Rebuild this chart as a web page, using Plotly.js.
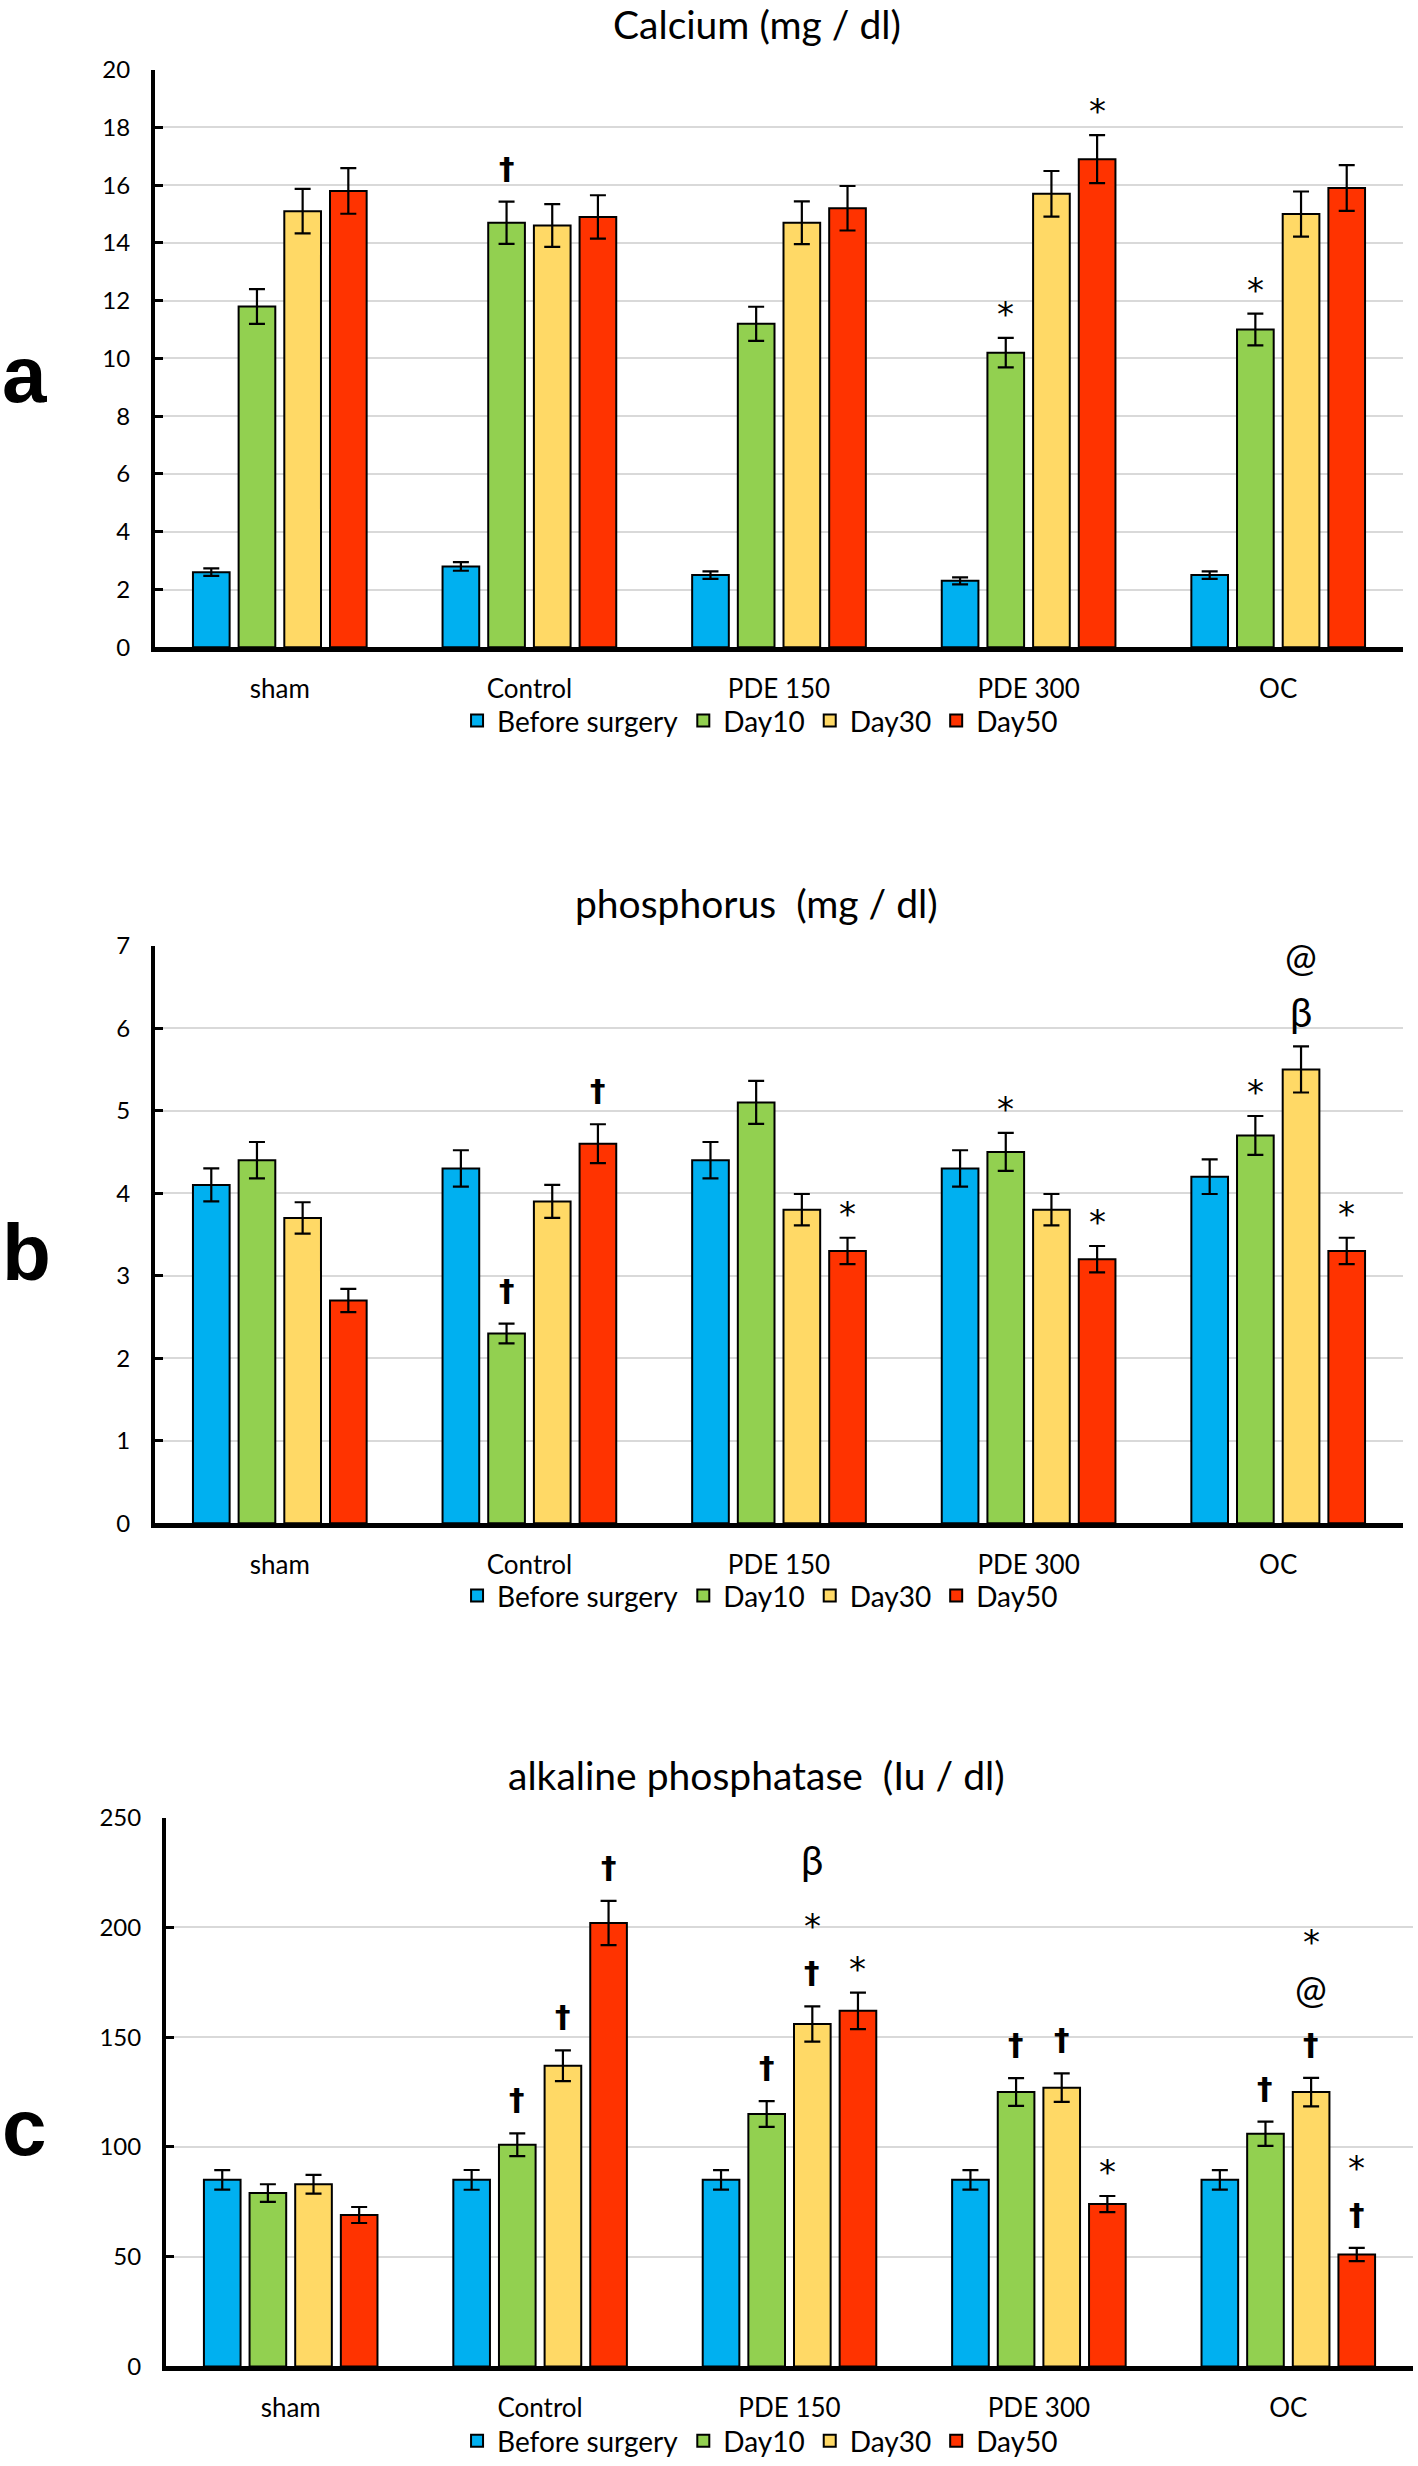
<!DOCTYPE html>
<html>
<head>
<meta charset="utf-8">
<script src="https://cdn.plot.ly/plotly-3.0.1.min.js"></script>
<style>
  html, body { margin: 0; padding: 0; background: #ffffff; }
  #chart { width: 1418px; height: 2466px; }
</style>
</head>
<body>
<div id="chart"></div>
<script>
// ---------------- DATA ----------------
const groups = ['sham', 'Control', 'PDE 150', 'PDE 300', 'OC'];
const seriesNames = ['Before surgery', 'Day10', 'Day30', 'Day50'];
const seriesColors = ['#00B0F0', '#92D050', '#FFD966', '#FF3300'];

// (a) Calcium (mg / dl)
const caBefore = [2.6, 2.8, 2.5, 2.3, 2.5];
const caDay10 = [11.8, 14.7, 11.2, 10.2, 11.0];
const caDay30 = [15.1, 14.6, 14.7, 15.7, 15.0];
const caDay50 = [15.8, 14.9, 15.2, 16.9, 15.9];
const caBeforeErr = [0.13, 0.15, 0.13, 0.12, 0.13];
const caDay10Err = [0.6, 0.73, 0.59, 0.51, 0.55];
const caDay30Err = [0.77, 0.74, 0.74, 0.79, 0.78];
const caDay50Err = [0.79, 0.75, 0.77, 0.83, 0.79];
// significance marks, listed from the bar upwards
const caBeforeMarks = ['', '', '', '', ''];
const caDay10Marks = ['', '†', '', '*', '*'];
const caDay30Marks = ['', '', '', '', ''];
const caDay50Marks = ['', '', '', '*', ''];

// (b) phosphorus (mg / dl)
const pBefore = [4.1, 4.3, 4.4, 4.3, 4.2];
const pDay10 = [4.4, 2.3, 5.1, 4.5, 4.7];
const pDay30 = [3.7, 3.9, 3.8, 3.8, 5.5];
const pDay50 = [2.7, 4.6, 3.3, 3.2, 3.3];
const pBeforeErr = [0.2, 0.22, 0.22, 0.22, 0.21];
const pDay10Err = [0.22, 0.12, 0.26, 0.23, 0.235];
const pDay30Err = [0.19, 0.2, 0.19, 0.19, 0.28];
const pDay50Err = [0.14, 0.235, 0.16, 0.16, 0.16];
const pBeforeMarks = ['', '', '', '', ''];
const pDay10Marks = ['', '†', '', '*', '*'];
const pDay30Marks = ['', '', '', '', 'β@'];
const pDay50Marks = ['', '†', '*', '*', '*'];

// (c) alkaline phosphatase (Iu / dl)
const alpBefore = [85, 85, 85, 85, 85];
const alpDay10 = [79, 101, 115, 125, 106];
const alpDay30 = [83, 137, 156, 127, 125];
const alpDay50 = [69, 202, 162, 74, 51];
const alpBeforeErr = [4.4, 4.5, 4.4, 4.4, 4.4];
const alpDay10Err = [4.0, 5.2, 5.9, 6.3, 5.5];
const alpDay30Err = [4.3, 7.0, 8.0, 6.5, 6.5];
const alpDay50Err = [3.65, 10.1, 8.3, 3.65, 3.0];
const alpBeforeMarks = ['', '', '', '', ''];
const alpDay10Marks = ['', '†', '†', '†', '†'];
const alpDay30Marks = ['', '†', '†*β', '†', '†@*'];
const alpDay50Marks = ['', '†', '*', '*', '†*'];

const panelTitles = ['Calcium (mg / dl)', 'phosphorus\u00A0 (mg / dl)', 'alkaline phosphatase\u00A0 (Iu / dl)'];
const panelLetters = ['a', 'b', 'c'];
const yRanges = [[0, 20], [0, 7], [0, 250]];
const yDticks = [2, 1, 50];

// ---------------- LAYOUT GEOMETRY ----------------
const W = 1418, H = 2466;
const BARGAP = 0.268, BARGROUPGAP = 0.197;
const panels = [
  { values: [caBefore, caDay10, caDay30, caDay50], errs: [caBeforeErr, caDay10Err, caDay30Err, caDay50Err],
    marks: [caBeforeMarks, caDay10Marks, caDay30Marks, caDay50Marks],
    xpx: [155, 1403], ypx: [70, 651], titleY: 24, legendY: 725, letterY: 377 },
  { values: [pBefore, pDay10, pDay30, pDay50], errs: [pBeforeErr, pDay10Err, pDay30Err, pDay50Err],
    marks: [pBeforeMarks, pDay10Marks, pDay30Marks, pDay50Marks],
    xpx: [155, 1403], ypx: [951, 1532], titleY: 908, legendY: 1605, letterY: 1260 },
  { values: [alpBefore, alpDay10, alpDay30, alpDay50], errs: [alpBeforeErr, alpDay10Err, alpDay30Err, alpDay50Err],
    marks: [alpBeforeMarks, alpDay10Marks, alpDay30Marks, alpDay50Marks],
    xpx: [166, 1413], ypx: [1828, 2380], titleY: 1785, legendY: 2455, letterY: 2140 }
];

const FONT = 'Lato, "Open Sans", sans-serif';
// glyph styles for the significance marks: font, size, vertical correction of the glyph centre
const markStyle = {
  '*': { family: '"DejaVu Sans", sans-serif', size: 34, dy: -10 },
  '†': { family: '"DejaVu Sans", sans-serif', size: 31, dy: 0, bold: true },
  'β': { family: FONT, size: 40, dy: 0 },
  '@': { family: FONT, size: 38, dy: 0 }
};

const traces = [];
const annotations = [];
const layout = {
  width: W, height: H,
  margin: { l: 0, r: 0, t: 0, b: 0, pad: 0 },
  paper_bgcolor: '#ffffff', plot_bgcolor: '#ffffff',
  barmode: 'group', bargap: BARGAP, bargroupgap: BARGROUPGAP,
  font: { family: FONT, color: '#000000', size: 24 },
  showlegend: true
};

panels.forEach((p, k) => {
  const sfx = k === 0 ? '' : String(k + 1);
  const xa = 'x' + sfx, ya = 'y' + sfx;
  const legName = 'legend' + sfx;

  layout['xaxis' + sfx] = {
    domain: [p.xpx[0] / W, p.xpx[1] / W], anchor: ya, type: 'category',
    showline: true, linecolor: '#000000', linewidth: 5, ticks: '',
    showgrid: false, zeroline: false, tickfont: { size: 26, family: FONT },
    ticklabelstandoff: 14, fixedrange: true
  };
  layout['yaxis' + sfx] = {
    domain: [1 - p.ypx[1] / H, 1 - p.ypx[0] / H], anchor: xa,
    range: yRanges[k], dtick: yDticks[k], tick0: 0,
    showline: true, linecolor: '#000000', linewidth: 4,
    ticks: 'inside', ticklen: 8, tickwidth: 3, tickcolor: '#000000',
    showgrid: true, gridcolor: '#D9D9D9', gridwidth: 2, zeroline: false,
    tickfont: { size: 24, family: FONT }, ticklabelstandoff: 16, fixedrange: true
  };
  layout[legName] = {
    orientation: 'h', x: 0.536, xanchor: 'center', y: 1 - p.legendY / H, yanchor: 'middle',
    font: { size: 28, family: FONT }, bgcolor: 'rgba(0,0,0,0)', itemwidth: 30,
    traceorder: 'normal', tracegroupgap: 0
  };

  seriesNames.forEach((name, j) => {
    traces.push({
      type: 'bar', name: name, x: groups, y: p.values[j],
      xaxis: xa, yaxis: ya, legend: legName,
      marker: { color: seriesColors[j], line: { color: '#000000', width: 2 } },
      error_y: { type: 'data', array: p.errs[j], visible: true, color: '#000000', thickness: 2.2, width: 8 },
      hoverinfo: 'skip'
    });
  });

  // title
  annotations.push({
    xref: 'paper', yref: 'paper', x: 757 / W, y: 1 - p.titleY / H,
    xanchor: 'center', yanchor: 'middle', showarrow: false,
    text: panelTitles[k], font: { size: 39, family: FONT, color: '#000000' }
  });
  // panel letter
  annotations.push({
    xref: 'paper', yref: 'paper', x: 0, y: 1 - p.letterY / H,
    xanchor: 'left', yanchor: 'middle', showarrow: false,
    text: '<b>' + panelLetters[k] + '</b>',
    font: { size: 80, family: '"Liberation Sans", Arial, sans-serif', color: '#000000' }
  });

  // significance marks above error bars
  const plotW = p.xpx[1] - p.xpx[0];
  const slot = plotW / groups.length * (1 - BARGAP) / seriesNames.length;
  seriesNames.forEach((name, j) => {
    p.marks[j].forEach((m, g) => {
      Array.from(m).forEach((sym, i) => {
        const st = markStyle[sym];
        annotations.push({
          xref: xa, yref: ya, x: groups[g], y: p.values[j][g] + p.errs[j][g],
          xshift: (j - 1.5) * slot,
          yshift: 34 + i * 56 + st.dy,
          xanchor: 'center', yanchor: 'middle', showarrow: false,
          text: st.bold ? '<b>' + sym + '</b>' : sym,
          font: { size: st.size, family: st.family, color: '#000000' }
        });
      });
    });
  });
});

layout.annotations = annotations;

Plotly.newPlot('chart', traces, layout, { staticPlot: true, displayModeBar: false });
</script>
</body>
</html>
